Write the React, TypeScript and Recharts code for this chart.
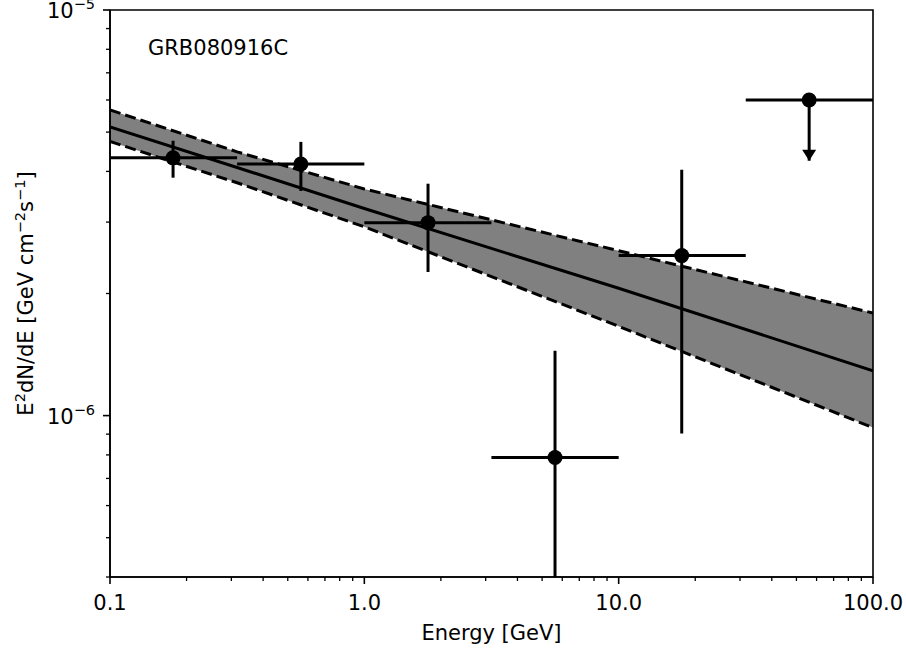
import React from 'react';
import { ComposedChart, Area, Line, Scatter, ErrorBar, XAxis, YAxis, ReferenceArea, Label } from 'recharts';

const FONT = 'DejaVu Sans';

// flux points (GeV, GeV cm^-2 s^-1)
const energy = [0.177, 0.563, 1.78, 5.62, 17.7];
const energyLow = [0.1, 0.316, 1.0, 3.16, 10.0];
const energyHigh = [0.316, 1.0, 3.16, 10.0, 31.6];
const flux = [4.32e-6, 4.17e-6, 2.99e-6, 7.88e-7, 2.48e-6];
const fluxLow = [3.86e-6, 3.58e-6, 2.26e-6, 4.0e-7, 9.03e-7];
const fluxHigh = [4.76e-6, 4.73e-6, 3.73e-6, 1.445e-6, 4.04e-6];

// upper limit
const ulEnergy = [56.1];
const ulEnergyLow = [31.6];
const ulEnergyHigh = [100];
const ulFlux = [6.0e-6];
const ulArrowTip = [4.25e-6];

// power-law fit and its band
const modelEnergy = [0.1, 0.316, 1, 10, 100];
const modelFlux = [5.15e-6, 4.09e-6, 3.24e-6, 2.06e-6, 1.29e-6];
const bandLow = [4.74e-6, 3.75e-6, 2.92e-6, 1.66e-6, 9.34e-7];
const bandHigh = [5.67e-6, 4.47e-6, 3.62e-6, 2.55e-6, 1.79e-6];

const xTicks = [0.1, 0.2, 0.3, 0.4, 0.5, 0.6, 0.7, 0.8, 0.9, 1, 2, 3, 4, 5, 6, 7, 8, 9, 10, 20, 30, 40, 50, 60, 70, 80, 90, 100];
const xMajor = [0.1, 1, 10, 100];
const yTicks = [4e-7, 5e-7, 6e-7, 7e-7, 8e-7, 9e-7, 1e-6, 2e-6, 3e-6, 4e-6, 5e-6, 6e-6, 7e-6, 8e-6, 9e-6, 1e-5];
const yMajor = [1e-6, 1e-5];

const points = energy.map((e, i) => ({
  x: e,
  y: flux[i],
  ex: [e - energyLow[i], energyHigh[i] - e],
  ey: [flux[i] - fluxLow[i], fluxHigh[i] - flux[i]],
}));

const limits = ulEnergy.map((e, i) => ({
  x: e,
  y: ulFlux[i],
  ex: [e - ulEnergyLow[i], ulEnergyHigh[i] - e],
  ey: [ulFlux[i] - ulArrowTip[i], 0],
}));

const arrows = ulEnergy.map((e, i) => ({ x: e, y: ulArrowTip[i] }));

const model = modelEnergy.map((e, i) => ({
  x: e,
  fit: modelFlux[i],
  lo: bandLow[i],
  hi: bandHigh[i],
  band: [bandLow[i], bandHigh[i]],
}));

const XTick = (props: any) => {
  const { x, y, payload } = props;
  const major = xMajor.includes(payload.value);
  return (
    <g>
      <line x1={x} y1={y} x2={x} y2={y + (major ? 7 : 4)} stroke="#000" strokeWidth={major ? 1.6 : 1.3} />
      {major && (
        <text x={x} y={y + 33} textAnchor="middle" fontFamily={FONT} fontSize={21} fill="#000">
          {payload.value.toFixed(1)}
        </text>
      )}
    </g>
  );
};

const YTick = (props: any) => {
  const { x, y, payload } = props;
  const major = yMajor.includes(payload.value);
  const exp = Math.round(Math.log10(payload.value));
  return (
    <g>
      <line x1={x - (major ? 7 : 4)} y1={y} x2={x} y2={y} stroke="#000" strokeWidth={major ? 1.6 : 1.3} />
      {major && (
        <text x={x - 15} y={y + 8} textAnchor="end" fontFamily={FONT} fontSize={21} fill="#000">
          10
          <tspan dy={-9} fontSize={14.5}>{'\u2212' + Math.abs(exp)}</tspan>
        </text>
      )}
    </g>
  );
};

const YLabel = () => (
  <text
    x={33}
    y={293.5}
    transform="rotate(-90, 33, 293.5)"
    textAnchor="middle"
    fontFamily={FONT}
    fontSize={21}
    fill="#000"
  >
    E<tspan dy={-8} fontSize={14.5}>2</tspan>
    <tspan dy={8}>dN/dE [GeV cm</tspan>
    <tspan dy={-8} fontSize={14.5}>{'\u22122'}</tspan>
    <tspan dy={8}>s</tspan>
    <tspan dy={-8} fontSize={14.5}>{'\u22121'}</tspan>
    <tspan dy={8}>]</tspan>
  </text>
);

const Dot = (props: any) => <circle cx={props.cx} cy={props.cy} r={7.5} fill="#000" />;

const ArrowHead = (props: any) => (
  <polygon
    points={`${props.cx - 7},${props.cy - 11} ${props.cx + 7},${props.cy - 11} ${props.cx},${props.cy}`}
    fill="#000"
  />
);

export default function App() {
  return (
    <div style={{ position: 'absolute', left: 0, top: 0, width: 906, height: 651, background: '#fff' }}>
      <ComposedChart width={906} height={651} data={model} margin={{ top: 10, right: 33, bottom: 0, left: 0 }}>
        <XAxis
          dataKey="x"
          type="number"
          scale="log"
          domain={[0.1, 100]}
          allowDataOverflow
          ticks={xTicks}
          interval={0}
          tick={<XTick />}
          tickLine={false}
          tickSize={0}
          tickMargin={0}
          height={74}
          axisLine={{ stroke: '#000', strokeWidth: 1.6 }}
        >
          <Label
            content={() => (
              <text x={491.5} y={640} textAnchor="middle" fontFamily={FONT} fontSize={21} fill="#000">
                Energy [GeV]
              </text>
            )}
          />
        </XAxis>
        <YAxis
          dataKey="y"
          type="number"
          scale="log"
          domain={[4e-7, 1e-5]}
          allowDataOverflow
          ticks={yTicks}
          interval={0}
          tick={<YTick />}
          tickLine={false}
          tickSize={0}
          tickMargin={0}
          width={110}
          axisLine={{ stroke: '#000', strokeWidth: 1.6 }}
        >
          <Label content={() => <YLabel />} />
        </YAxis>
        <Area dataKey="band" type="linear" fill="#808080" fillOpacity={1} stroke="none" isAnimationActive={false} />
        <Line dataKey="hi" type="linear" stroke="#000" strokeWidth={3} strokeDasharray="11 5" dot={false} isAnimationActive={false} />
        <Line dataKey="lo" type="linear" stroke="#000" strokeWidth={3} strokeDasharray="11 5" dot={false} isAnimationActive={false} />
        <Line dataKey="fit" type="linear" stroke="#000" strokeWidth={3} dot={false} isAnimationActive={false} />
        <Scatter data={points} dataKey="y" shape={<Dot />} isAnimationActive={false}>
          <ErrorBar dataKey="ex" direction="x" width={0} stroke="#000" strokeWidth={3} isAnimationActive={false} />
          <ErrorBar dataKey="ey" direction="y" width={0} stroke="#000" strokeWidth={3} isAnimationActive={false} />
        </Scatter>
        <Scatter data={limits} dataKey="y" shape={<Dot />} isAnimationActive={false}>
          <ErrorBar dataKey="ex" direction="x" width={0} stroke="#000" strokeWidth={3} isAnimationActive={false} />
          <ErrorBar dataKey="ey" direction="y" width={0} stroke="#000" strokeWidth={3} isAnimationActive={false} />
        </Scatter>
        <Scatter data={arrows} dataKey="y" shape={<ArrowHead />} isAnimationActive={false} />
        <ReferenceArea
          x1={0.1}
          x2={100}
          y1={4e-7}
          y2={1e-5}
          fill="none"
          fillOpacity={0}
          stroke="#000"
          strokeWidth={1.6}
          ifOverflow="visible"
          label={{
            content: (p: any) => (
              <text x={p.viewBox.x + 38} y={p.viewBox.y + 45} fontFamily={FONT} fontSize={21} fill="#000">
                GRB080916C
              </text>
            ),
          }}
        />
      </ComposedChart>
    </div>
  );
}
